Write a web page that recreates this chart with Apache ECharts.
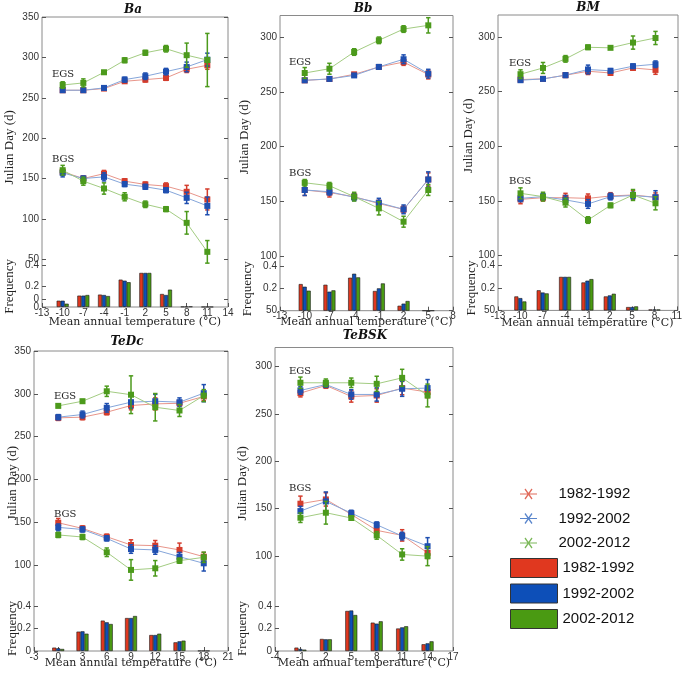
<!DOCTYPE html>
<html><head><meta charset="utf-8">
<script src="https://cdn.jsdelivr.net/npm/echarts@6/dist/echarts.min.js"></script>
<style>html,body{margin:0;padding:0;background:#fff}#c{width:685px;height:674px}</style>
</head><body><div id="c"></div>
<script>
const periods = ['1982-1992', '1992-2002', '2002-2012'];

// ---- Ba ----
const baTicks = [-13, -10, -7, -4, -1, 2, 5, 8, 11, 14];
const baTemps = [-10, -7, -4, -1, 2, 5, 8, 11];
const baEgs = [[259.5, 259.5, 261.6, 270.6, 272.7, 274.8, 285.5, 290.5],
               [259.5, 259.5, 262.4, 272.7, 276.9, 282.6, 288.4, 297.5],
               [266, 268.6, 281.8, 296.7, 306, 311, 303, 297]];
const baEgsErr = [[1, 1, 1.5, 2, 3, 3, 4, 5], [1, 2, 2, 3, 4, 4, 6, 8], [4, 5, 2, 3, 3, 4, 15, 33]];
const baBgs = [[158.3, 150, 156, 146.7, 142.6, 140.5, 133.5, 124],
               [157, 150, 152, 143, 139.7, 135.5, 126, 116],
               [160.3, 146.7, 137.6, 127.3, 118, 112, 95, 59]];
const baBgsErr = [[4, 3, 4, 3, 3, 4, 8, 13], [5, 3, 5, 3, 3, 3, 7, 11], [6, 5, 7, 5, 4, 3, 14, 14]];
const baFreq = [[0.061, 0.11, 0.12, 0.265, 0.33, 0.126, 0.003, 0.001],
                [0.061, 0.11, 0.116, 0.255, 0.33, 0.116, 0.003, 0.001],
                [0.032, 0.116, 0.106, 0.24, 0.33, 0.168, 0.005, 0.001]];

// ---- Bb ----
const bbTicks = [-13, -10, -7, -4, -1, 2, 5, 8];
const bbTemps = [-10, -7, -4, -1, 2, 5];
const bbEgs = [[260.7, 261.9, 266.2, 272.9, 277.4, 266],
               [260.7, 262, 265.2, 273, 280, 266.8],
               [267.4, 271.3, 286.6, 297.3, 307.6, 311]];
const bbEgsErr = [[1, 1, 1, 2, 3, 4], [1, 1, 1.5, 2, 4, 4], [5, 5, 3, 3, 3, 7]];
const bbBgs = [[160.4, 158, 154.3, 148, 142.7, 170],
               [160.4, 158.8, 153.7, 148.8, 142.7, 170],
               [167, 164.3, 154.3, 143.6, 131.4, 160.4]];
const bbBgsErr = [[5, 4, 3, 3, 3, 6], [5, 3, 3, 4, 4, 7], [3, 3, 4, 6, 5, 5]];
const bbFreq = [[0.242, 0.236, 0.3, 0.179, 0.045, 0],
                [0.218, 0.173, 0.336, 0.203, 0.064, 0],
                [0.182, 0.185, 0.303, 0.248, 0.088, 0]];

// ---- BM ----
const bmTicks = [-13, -10, -7, -4, -1, 2, 5, 8, 11];
const bmTemps = [-10, -7, -4, -1, 2, 5, 8];
const bmEgs = [[261, 261.6, 265, 268.6, 267, 271.6, 269.8],
               [260.4, 261.6, 265, 270.2, 269, 273.2, 275],
               [265.9, 271.6, 279.9, 290.5, 290, 294.8, 299]];
const bmEgsErr = [[1, 1, 2, 3, 2, 2, 4], [1, 1, 2, 4, 2, 2, 3], [4, 5, 3, 2, 1, 6, 6]];
const bmBgs = [[151.5, 153, 153, 152.4, 154.6, 155.5, 153.4],
               [152.4, 154, 151, 147.3, 154, 155, 153.4],
               [157, 154, 148.5, 132.6, 146, 155.5, 147.9]];
const bmBgsErr = [[4, 3, 4, 4, 3, 4, 4], [3, 3, 4, 4, 3, 3, 6], [5, 4, 4, 3, 2, 5, 6]];
const bmFreq = [[0.125, 0.18, 0.3, 0.25, 0.125, 0.03, 0.008],
                [0.11, 0.16, 0.3, 0.266, 0.134, 0.03, 0.008],
                [0.08, 0.152, 0.3, 0.28, 0.149, 0.036, 0.008]];

// ---- TeDc ----
const tdTicks = [-3, 0, 3, 6, 9, 12, 15, 18, 21];
const tdTemps = [0, 3, 6, 9, 12, 15, 18];
const tdEgs = [[272, 272.8, 278.6, 286.4, 288.3, 289, 297],
               [272.8, 275.9, 283.7, 290.3, 291.4, 290.3, 300.8],
               [286, 291.4, 303, 299, 284.4, 280.6, 298]];
const tdEgsErr = [[3, 3, 3, 5, 7, 3, 5], [3, 4, 5, 7, 8, 5, 10], [2, 2, 6, 22, 16, 7, 7]];
const tdBgs = [[149.6, 143, 133.3, 123.7, 122.9, 117.9, 110],
               [144.2, 141.8, 131.4, 119, 117.9, 110, 102.3],
               [135.4, 133, 115.2, 94.6, 96.5, 105.4, 109.3]];
const tdBgsErr = [[5, 3, 3, 6, 6, 8, 5], [4, 3, 3, 5, 5, 5, 9], [3, 3, 5, 12, 9, 3, 6]];
const tdFreq = [[0.03, 0.172, 0.27, 0.293, 0.142, 0.077, 0.002],
                [0.024, 0.175, 0.255, 0.293, 0.142, 0.086, 0.002],
                [0.018, 0.154, 0.24, 0.311, 0.154, 0.092, 0.002]];

// ---- TeBSK ----
const tbTicks = [-4, -1, 2, 5, 8, 11, 14, 17];
const tbTemps = [-1, 2, 5, 8, 11, 14];
const tbEgs = [[271.9, 280, 268.4, 269.4, 277.2, 273],
               [274.7, 281, 270.5, 270.5, 276.5, 277.2],
               [282.8, 282.8, 282.8, 281.7, 288, 269.4]];
const tbEgsErr = [[4, 3, 6, 7, 7, 6], [4, 3, 5, 7, 8, 9], [6, 4, 5, 8, 9, 12]];
const tbBgs = [[155.3, 159.8, 144, 127.2, 121.9, 103.5],
               [147.5, 157.7, 145.4, 133.1, 121.2, 110.5],
               [140.5, 145.8, 140.2, 121.9, 101.8, 100]];
const tbBgsErr = [[8, 7, 3, 4, 6, 6], [5, 10, 3, 3, 4, 9], [5, 12, 2, 4, 6, 10]];
const tbFreq = [[0.03, 0.107, 0.356, 0.252, 0.2, 0.06],
                [0.018, 0.104, 0.36, 0.243, 0.21, 0.068],
                [0.012, 0.104, 0.32, 0.264, 0.22, 0.086]];

const panels = [
  {key: 'Ba', ticks: baTicks, temps: baTemps, egs: baEgs, egsErr: baEgsErr, bgs: baBgs, bgsErr: baBgsErr, freq: baFreq},
  {key: 'Bb', ticks: bbTicks, temps: bbTemps, egs: bbEgs, egsErr: bbEgsErr, bgs: bbBgs, bgsErr: bbBgsErr, freq: bbFreq},
  {key: 'BM', ticks: bmTicks, temps: bmTemps, egs: bmEgs, egsErr: bmEgsErr, bgs: bmBgs, bgsErr: bmBgsErr, freq: bmFreq},
  {key: 'TeDc', ticks: tdTicks, temps: tdTemps, egs: tdEgs, egsErr: tdEgsErr, bgs: tdBgs, bgsErr: tdBgsErr, freq: tdFreq},
  {key: 'TeBSK', ticks: tbTicks, temps: tbTemps, egs: tbEgs, egsErr: tbEgsErr, bgs: tbBgs, bgsErr: tbBgsErr, freq: tbFreq}
];

// layout (pixels) per panel
const layouts = [
  {left: 42, width: 186, top: 17, bottom: 307, lineTop: 17.3, lineBottom: 299.4, yMin: 0, yMax: 350,
   jLabels: [0, 50, 100, 150, 200, 250, 300, 350], fTop: 265.7, fLabels: [0, 0.2, 0.4],
   title: [133, 4], egs: [52, 74], bgs: [52, 159], jGap: 25.5, jShift: 22, fGap: 25.5, xGap: 10},
  {left: 280, width: 173, top: 15.5, bottom: 310.7, lineTop: 15.5, lineBottom: 310.7, yMin: 50, yMax: 320,
   jLabels: [50, 100, 150, 200, 250, 300], fTop: 266.7, fLabels: [0.2, 0.4],
   title: [363, 3], egs: [289, 62], bgs: [289, 173], jGap: 28.5, jShift: 52, fGap: 25.5, xGap: 6},
  {left: 498, width: 180, top: 15, bottom: 310.4, lineTop: 15, lineBottom: 310.4, yMin: 50, yMax: 320,
   jLabels: [50, 100, 150, 200, 250, 300], fTop: 265.7, fLabels: [0.2, 0.4],
   title: [588, 2], egs: [509, 63], bgs: [509, 181], jGap: 22.5, jShift: 54, fGap: 19.5, xGap: 7},
  {left: 34, width: 194, top: 351, bottom: 651, lineTop: 351, lineBottom: 651, yMin: 0, yMax: 350,
   jLabels: [100, 150, 200, 250, 300, 350], fTop: 606, fLabels: [0, 0.2, 0.4],
   title: [127, 336], egs: [54, 396], bgs: [54, 514], jGap: 14.5, jShift: 36, fGap: 14.5, xGap: 7},
  {left: 275, width: 178, top: 347.5, bottom: 651, lineTop: 347.5, lineBottom: 651, yMin: 0, yMax: 320,
   jLabels: [100, 150, 200, 250, 300], fTop: 606, fLabels: [0, 0.2, 0.4],
   title: [365, 330], egs: [289, 371], bgs: [289, 488], jGap: 25.5, jShift: 32, fGap: 25.5, xGap: 7}
];

const lineCol = ['#e8958a', '#86a6da', '#a3cc82'];
const markCol = ['#d43c2c', '#1f4fb0', '#4c9a1c'];
const barCol = ['#e0381f', '#0d4fb8', '#4a9a12'];
const legendLineCol = ['#e06a5a', '#5a86cc', '#7cb85a'];

const nameFont = "'Liberation Serif','Times New Roman',serif";
const wideSerif = "'DejaVu Serif','Liberation Serif',serif";
const tickStyle = {fontSize: 10, color: '#333', fontFamily: "'Liberation Sans',Arial,sans-serif"};

function errItem(color) {
  return function (params, api) {
    const x = api.value(0), lo = api.value(1), hi = api.value(2);
    const a = api.coord([x, lo]), b = api.coord([x, hi]);
    const w = 2.2;
    const style = {stroke: color, lineWidth: 1.5, fill: null};
    return {type: 'group', children: [
      {type: 'line', shape: {x1: a[0], y1: a[1], x2: b[0], y2: b[1]}, style: style},
      {type: 'line', shape: {x1: a[0] - w, y1: a[1], x2: a[0] + w, y2: a[1]}, style: style},
      {type: 'line', shape: {x1: b[0] - w, y1: b[1], x2: b[0] + w, y2: b[1]}, style: style}
    ]};
  };
}

const grid = [], xAxis = [], yAxis = [], series = [], title = [], graphic = [];

panels.forEach(function (P, i) {
  const L = layouts[i];
  const cats = P.ticks.map(String);
  const gi = grid.length;
  grid.push({left: L.left, top: L.top, width: L.width, height: L.bottom - L.top, show: true,
             borderColor: '#8a8a8a', borderWidth: 1, backgroundColor: 'transparent'});
  grid.push({left: L.left, top: L.lineTop, width: L.width, height: L.lineBottom - L.lineTop});
  grid.push({left: L.left, top: L.fTop, width: L.width, height: L.bottom - L.fTop});

  const xi = xAxis.length;
  xAxis.push({gridIndex: gi, type: 'value', min: 0, max: 1, show: false});
  xAxis.push({gridIndex: gi + 1, type: 'category', data: cats, boundaryGap: false, show: false});
  xAxis.push({gridIndex: gi + 2, type: 'category', data: cats, boundaryGap: false,
              axisLine: {show: false},
              axisTick: {show: true, inside: true, length: 4, interval: 0, lineStyle: {color: '#555'}},
              axisLabel: Object.assign({interval: 0, margin: 1}, tickStyle),
              name: 'Mean annual temperature (°C)', nameLocation: 'middle', nameGap: L.xGap,
              nameMoveOverlap: false,
              nameTextStyle: {fontFamily: wideSerif, fontSize: 11, color: '#222'}});

  const yi = yAxis.length;
  yAxis.push({gridIndex: gi, type: 'value', min: 0, max: 1, show: false});
  yAxis.push({gridIndex: gi + 1, type: 'value', min: L.yMin, max: L.yMax, position: 'left',
              splitLine: {show: false}, axisLine: {show: false},
              axisTick: {show: true, inside: true, length: 4, customValues: L.jLabels, lineStyle: {color: '#555'}},
              axisLabel: Object.assign({customValues: L.jLabels, margin: 3}, tickStyle),
              name: 'Julian Day (d)', nameLocation: 'middle', nameGap: L.jGap, nameMoveOverlap: false,
              nameTextStyle: {fontFamily: nameFont, fontSize: 13, color: '#222', padding: [0, 0, 0, L.jShift]}});
  yAxis.push({gridIndex: gi + 1, type: 'value', min: L.yMin, max: L.yMax, position: 'right',
              splitLine: {show: false}, axisLine: {show: false}, axisLabel: {show: false},
              axisTick: {show: true, inside: true, length: 4, customValues: L.jLabels, lineStyle: {color: '#555'}}});
  yAxis.push({gridIndex: gi + 2, type: 'value', min: 0, max: 0.4, position: 'left',
              splitLine: {show: false}, axisLine: {show: false},
              axisTick: {show: true, inside: true, length: 4, customValues: L.fLabels, lineStyle: {color: '#555'}},
              axisLabel: Object.assign({customValues: L.fLabels, margin: 3}, tickStyle),
              name: 'Frequency', nameLocation: 'middle', nameGap: L.fGap, nameMoveOverlap: false,
              nameTextStyle: {fontFamily: nameFont, fontSize: 13, color: '#222'}});

  [[P.egs, P.egsErr], [P.bgs, P.bgsErr]].forEach(function (g) {
    const means = g[0], errs = g[1];
    periods.forEach(function (per, p) {
      series.push({type: 'line', name: per, xAxisIndex: xi + 1, yAxisIndex: yi + 1,
                   data: P.temps.map(function (t, k) { return [String(t), means[p][k]]; }),
                   symbol: 'rect', symbolSize: 6, showSymbol: true,
                   itemStyle: {color: markCol[p]}, lineStyle: {color: lineCol[p], width: 1},
                   z: 3 + p, animation: false});
      series.push({type: 'custom', name: 'errorbar', xAxisIndex: xi + 1, yAxisIndex: yi + 1,
                   data: P.temps.map(function (t, k) { return [String(t), means[p][k] - errs[p][k], means[p][k] + errs[p][k]]; }),
                   encode: {x: 0, y: [1, 2]}, renderItem: errItem(markCol[p]), z: 3 + p, animation: false});
    });
  });
  periods.forEach(function (per, p) {
    series.push({type: 'bar', name: 'bar ' + per, xAxisIndex: xi + 2, yAxisIndex: yi + 3,
                 data: P.temps.map(function (t, k) { return [String(t), P.freq[p][k]]; }),
                 barWidth: 4, barGap: '0%',
                 itemStyle: {color: barCol[p], borderColor: '#1a1a1a', borderWidth: 0.6},
                 animation: false});
  });

  title.push({text: P.key, left: L.title[0], top: L.title[1], textAlign: 'center', padding: 0,
              textStyle: {fontFamily: wideSerif, fontStyle: 'italic',
                          fontWeight: 'bold', fontSize: 12, color: '#111'}});
  graphic.push({type: 'text', x: L.egs[0], y: L.egs[1],
                style: {text: 'EGS', fontFamily: wideSerif, fontSize: 10, fill: '#222', verticalAlign: 'middle'}});
  graphic.push({type: 'text', x: L.bgs[0], y: L.bgs[1],
                style: {text: 'BGS', fontFamily: wideSerif, fontSize: 10, fill: '#222', verticalAlign: 'middle'}});
});

const xIconPath = 'path://M0,5 L17,5 L17,6 L0,6 Z M4.5,1 L5.5,0 L12.5,10 L11.5,11 Z M11.5,0 L12.5,1 L5.5,11 L4.5,10 Z';

const option = {
  backgroundColor: '#fff',
  animation: false,
  title: title,
  grid: grid,
  xAxis: xAxis,
  yAxis: yAxis,
  series: series,
  graphic: graphic,
  legend: [
    {orient: 'vertical', left: 515, top: 481.5, itemWidth: 50, itemHeight: 11, itemGap: 9.5,
     symbolKeepAspect: true, selectedMode: false,
     textStyle: {fontSize: 15, color: '#111', fontFamily: "'Liberation Sans',Arial,sans-serif"},
     data: periods.map(function (per, p) { return {name: per, icon: xIconPath, itemStyle: {color: legendLineCol[p]}}; })},
    {orient: 'vertical', left: 505, top: 553, itemWidth: 47, itemHeight: 19, itemGap: 5.5,
     selectedMode: false, icon: 'rect',
     itemStyle: {borderColor: '#333', borderWidth: 1},
     textStyle: {fontSize: 15, color: '#111', fontFamily: "'Liberation Sans',Arial,sans-serif"},
     formatter: function (name) { return name.replace('bar ', ''); },
     data: periods.map(function (per) { return 'bar ' + per; })}
  ]
};

const chart = echarts.init(document.getElementById('c'), null, {renderer: 'canvas'});
chart.setOption(option);
</script>
</body></html>
